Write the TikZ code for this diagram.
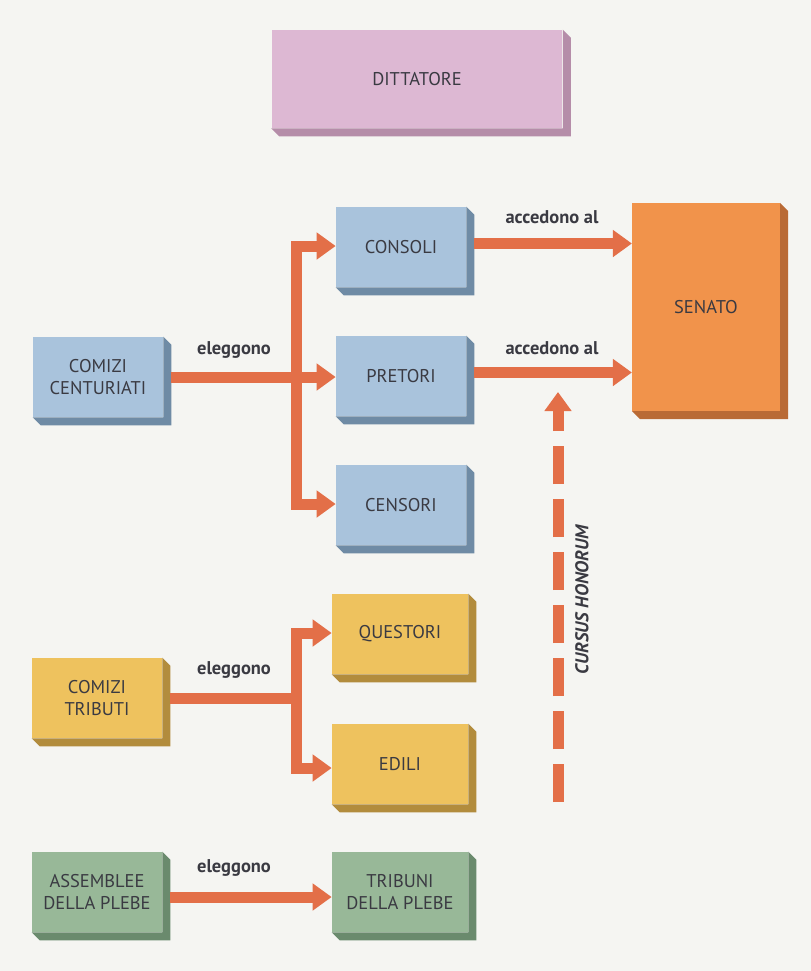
\documentclass[tikz,border=0pt]{standalone}
\usepackage{fontspec}
\setmainfont{PT Sans}
\usetikzlibrary{arrows.meta}

\definecolor{paper}{HTML}{F5F5F2}
\definecolor{boxtext}{HTML}{3A3A42}
\definecolor{arrowred}{HTML}{E36F48}
\definecolor{boxblue}{HTML}{A9C3DC}
\definecolor{shadeblue}{HTML}{6F8BA5}
\definecolor{boxpink}{HTML}{DDB8D3}
\definecolor{shadepink}{HTML}{B58DA9}
\definecolor{boxorange}{HTML}{F1934B}
\definecolor{shadeorange}{HTML}{B96A35}
\definecolor{boxyellow}{HTML}{EEC25E}
\definecolor{shadeyellow}{HTML}{B28C3D}
\definecolor{boxgreen}{HTML}{98B898}
\definecolor{shadegreen}{HTML}{6A8A6D}

\tikzset{
  office/.style={minimum width=2.6cm, minimum height=1.6cm, align=center, inner sep=2pt,
    text=boxtext, font=\fontsize{10.5}{12.5}\selectfont},
  blue box/.style={office, fill=boxblue},
  pink box/.style={office, fill=boxpink},
  orange box/.style={office, fill=boxorange},
  yellow box/.style={office, fill=boxyellow},
  green box/.style={office, fill=boxgreen},
  pipe/.style={draw=arrowred, line width=0.22cm},
  push/.style={pipe, -{Triangle[length=0.38cm, width=0.52cm]}},
  tag/.style={text=boxtext, font=\bfseries\fontsize{10.5}{12}\selectfont}
}

\begin{document}
\begin{tikzpicture}[x=0.02cm, y=-0.02cm]

\fill[paper] (0,0) rectangle (811,971);

\node[pink box, minimum width=5.82cm, minimum height=1.96cm] (dittatore) at (417,79) {DITTATORE};

\node[blue box] (consoli) at (401,247) {CONSOLI};
\node[blue box] (pretori) at (401,376) {PRETORI};
\node[blue box] (censori) at (401,505) {CENSORI};
\node[blue box] (centuriati) at (98,377) {COMIZI\\CENTURIATI};

\node[orange box, minimum width=2.95cm, minimum height=4.15cm] (senato) at (706,307) {SENATO};

\node[yellow box] (tributi) at (97,698) {COMIZI\\TRIBUTI};
\node[yellow box, minimum width=2.72cm] (questori) at (400,634) {QUESTORI};
\node[yellow box, minimum width=2.72cm] (edili) at (400,764) {EDILI};

\node[green box] (assemblee) at (97,892) {ASSEMBLEE\\DELLA PLEBE};
\node[green box, minimum width=2.72cm] (tribuni) at (400,892) {TRIBUNI\\DELLA PLEBE};

\foreach \office/\tint in {dittatore/shadepink, consoli/shadeblue, pretori/shadeblue, censori/shadeblue,
    centuriati/shadeblue, senato/shadeorange, tributi/shadeyellow, questori/shadeyellow,
    edili/shadeyellow, assemblee/shadegreen, tribuni/shadegreen}
  \fill[\tint] (\office.north east) -- ([shift={(0.16cm,-0.16cm)}]\office.north east)
    -- ([shift={(0.16cm,-0.16cm)}]\office.south east) -- ([shift={(0.16cm,-0.16cm)}]\office.south west)
    -- (\office.south west) -- (\office.south east) -- cycle;

\coordinate (split a) at (296,377);
\coordinate (split b) at (296,698);
\draw[pipe] ([xshift=0.16cm]centuriati.east) -- (split a);
\draw[push] (split a) |- ([yshift=0.02cm]consoli.west);
\draw[push] (split a) -- (split a -| pretori.west);
\draw[push] (split a) |- ([yshift=0.02cm]censori.west);
\node[tag] (elegge a) at (234,350) {eleggono};

\draw[pipe] ([xshift=0.16cm]tributi.east) -- (split b);
\draw[push] (split b) |- ([yshift=0.02cm]questori.west);
\draw[push] (split b) |- ([yshift=-0.08cm]edili.west);
\node[tag] (elegge b) at (234,670) {eleggono};

\draw[push] ([xshift=0.16cm, yshift=-0.1cm]assemblee.east) -- ([yshift=-0.1cm]assemblee.east -| tribuni.west);
\node[tag] (elegge c) at (234,868) {eleggono};

\draw[push] ([xshift=0.16cm, yshift=0.07cm]consoli.east) -- ([yshift=0.07cm]consoli.east -| senato.west);
\draw[push] ([xshift=0.16cm, yshift=0.07cm]pretori.east) -- ([yshift=0.07cm]pretori.east -| senato.west);
\node[tag] (accede a) at (552,217) {accedono al};
\node[tag] (accede b) at (552,348) {accedono al};

\coordinate (cursus start) at (558,802);
\coordinate (cursus end) at (558,392);
\draw[push, dash pattern=on 0.76cm off 0.3cm] (cursus start) -- (cursus end);
\node[text=boxtext, font=\bfseries\itshape\fontsize{10.5}{12}\selectfont, rotate=90] (cursus) at (582,600) {CURSUS HONORUM};

\end{tikzpicture}
\end{document}
